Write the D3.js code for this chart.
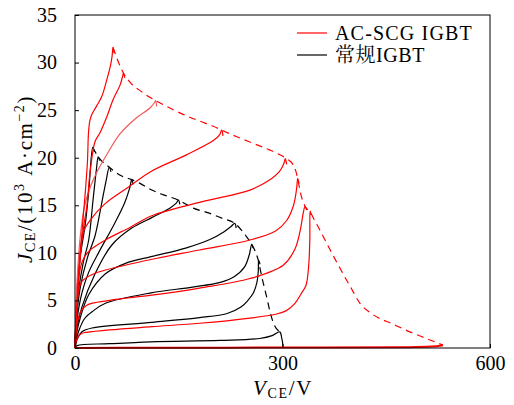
<!DOCTYPE html>
<html><head><meta charset="utf-8">
<script src="https://cdn.jsdelivr.net/npm/d3@7"></script>
<style>
body{margin:0;background:#fff}svg{display:block}
svg text{font-family:"Liberation Serif","Times New Roman","DejaVu Serif","Noto Serif CJK SC","Noto Sans CJK SC",serif !important;}
</style>
</head><body><svg id="c" width="514" height="405"></svg>
<script>
// ---- data (V in volts, J in 10^3 A/cm^2) ----
const xTicks = [0, 300, 600];
const yTicks = [0, 5, 10, 15, 20, 25, 30, 35];
const legendLabels = ["AC-SCG IGBT", "常规IGBT"];

// AC-SCG IGBT output curves (red)
const red0 = [[0,0],[100,0.02],[300,0.05],[470,0.08],[515,0.15],[532,0.3]];
const red1 = [[0,0],[2,3],[6,8],[11,13],[15,16.5],[18,19.6],[19.5,22.6],[21.5,23.9],[24,24.5],[31,25.4],[38.5,26.4],[46,28.2],[51,29.6],[53.5,30.6],[55,31.6],[56.5,31]];
const red2 = [[0,0],[3,5],[8,10],[13,13],[17,14.8],[22,18.6],[29,21.7],[36,22.6],[46,24.3],[55,26.1],[65,27.6],[69,28.6],[70,28.9],[72,28.4]];
const red3 = [[0,0],[3,7],[8,12],[14,15],[22,16.9],[31,18.4],[45,20.2],[65,22.5],[89,24.2],[108,25.2],[115,25.8],[116.5,26],[118,25.4]];
const red4 = [[0,0],[3,6],[7,10],[12,12.2],[22,13.45],[44,15.2],[78,16.95],[111,18.6],[161,20.3],[200,21.8],[209,22.4],[212,22.9],[214,22.3]];
const red5 = [[0,0],[3,5],[8,8.5],[14,9.6],[22,10.3],[44,11.35],[80,12.7],[111,13.9],[180,15.3],[253,16.6],[280,17.6],[296,18.6],[302,19.4],[304,19.9],[306,19.3]];
const red6 = [[0,0],[2,3.5],[5,6],[10,7],[29,7.85],[110,9.3],[180,10.3],[253,11.35],[290,12.3],[306,13.4],[316,15],[320.5,16.8],[322,17.8],[324,17.3]];
const red7 = [[0,0],[3,2.5],[8,3.8],[17,4.5],[50,5],[111,5.55],[180,6.3],[253,7.3],[301,8.7],[318,10.4],[326,12.5],[330,14.2],[332.5,14.85],[335,14.5]];
const red8 = [[0,0],[3,1.0],[8,1.45],[12.5,1.6],[50,1.9],[111,2.24],[180,2.6],[253,3.15],[290,3.55],[305,3.9],[318,4.7],[327,5.7],[334,6.6],[338,8.8],[339.5,11.5],[340,14.4],[341.5,14.0]];
const redEnvelope = [[55,31.6],[62,30.2],[70,28.9],[80,27.9],[95,27],[116.5,26],[135,25.3],[158,24.5],[182,23.8],[200,23.3],[212,22.9],[234,22.2],[258,21.5],[282,20.8],[299,20.2],[308,19.8],[315,19.3],[320,18.4],[322.5,17.6],[326,16.3],[333,14.85],[340,14.3],[345,13.6],[354,12.4],[369,10.3],[383,8.4],[398,6.45],[412,4.7],[431,3.5],[460,2.5],[484,1.7],[508,1.0],[532,0.3]];

// conventional IGBT output curves (black)
const black1 = [[0,0],[1.5,3.5],[3,6.1],[8,9.8],[15,13.1],[20,16.6],[25.6,21.1],[28,20.6]];
const black2 = [[0,0],[2,3.5],[5.3,6.1],[12,9],[19.8,11.35],[26,15.5],[31,18.8],[33.5,20.1],[35.5,19.7]];
const black3 = [[0,0],[2,3],[7.7,6.4],[18,9.5],[29,11.8],[38,15],[45,17.6],[49.5,19],[52,18.5]];
const black4 = [[0,0],[3,3],[10,5.8],[20,8.0],[34,10.0],[58,13.2],[72,15.3],[79,16.8],[82,17.7],[84,17.2]];
const black5 = [[0,0],[3,2.2],[10,4.3],[29,7.8],[53,10.8],[82,12.6],[111,13.7],[137,14.7],[146,15.2],[149.5,15.55],[151.5,15.1]];
const black6 = [[0,0],[3,1.8],[7.7,3.2],[19.8,5.6],[44,7.8],[73,8.9],[110,9.6],[160,10.5],[195,11.4],[215,12.2],[226,12.8],[231,13.1],[233,12.6]];
const black7 = [[0,0],[3,1.2],[7,2.1],[14,3.1],[24.6,3.8],[44,4.7],[110,5.8],[170,6.4],[210,6.9],[230,7.5],[245,8.5],[252,9.8],[255.5,10.9],[257.5,10.5]];
const black8 = [[0,0],[3,0.9],[10,1.7],[24.6,2.1],[111,2.7],[180,3.2],[219,3.6],[240,4.3],[250,5.0],[258,5.8],[263,6.9],[265,8.1],[265.5,9.2],[267.5,8.8]];
const black9 = [[0,0],[3,0.25],[50,0.45],[110,0.65],[210,0.8],[267,1.0],[285,1.3],[296,1.7],[299,1.0],[300.5,0.3],[300.5,0]];
const blackEnvelope = [[25.6,21.1],[33.5,20.1],[49.5,19],[67,18.1],[82,17.7],[94,17.3],[111,16.6],[128,16.1],[149.5,15.55],[171,14.7],[193,14.2],[214,13.6],[231,13.1],[248,11.7],[255.5,10.9],[265,9.2],[270,7.5],[277,5.4],[282,3.8],[287,2.6],[296,1.7]];

const redCurves = [red0, red8, red7, red6, red5, red4, red3, red2, red1];
const blackCurves = [black9, black8, black7, black6, black5, black4, black3, black2, black1];

// ---- drawing ----
const svg = d3.select("#c");
const L = 75, R = 490, T = 15, B = 348;
const x = d3.scaleLinear().domain([0, 600]).range([L, R]);
const y = d3.scaleLinear().domain([0, 35]).range([B, T]);

const line = d3.line().x(d => x(d[0])).y(d => y(d[1])).curve(d3.curveCatmullRom.alpha(0.5));
const envLine = d3.line().x(d => x(d[0])).y(d => y(d[1])).curve(d3.curveMonotoneX);

const plot = svg.append("g");
plot.selectAll("path.bk").data(blackCurves).join("path")
  .attr("d", line).attr("fill", "none").attr("stroke", "#000").attr("stroke-width", 1.2);
plot.append("path").attr("d", envLine(blackEnvelope)).attr("fill", "none")
  .attr("stroke", "#000").attr("stroke-width", 1.2).attr("stroke-dasharray", "7,5");
plot.selectAll("path.rd").data(redCurves).join("path")
  .attr("d", line).attr("fill", "none")
  .attr("stroke", d => d === red3 ? "#f25a5a" : "#ff0000").attr("stroke-width", d => d === red0 ? 2 : 1.2);
plot.append("path").attr("d", envLine(redEnvelope)).attr("fill", "none")
  .attr("stroke", "#ff0000").attr("stroke-width", 1.2).attr("stroke-dasharray", "7,5");

// frame
svg.append("rect").attr("x", L).attr("y", T).attr("width", R - L).attr("height", B - T)
  .attr("fill", "none").attr("stroke", "#000").attr("stroke-width", 1);

// axes
const ya = svg.append("g").attr("transform", `translate(${L},0)`)
  .call(d3.axisLeft(y).tickValues(yTicks).tickSize(-4).tickPadding(18).tickFormat(d3.format("d")));
const xa = svg.append("g").attr("transform", `translate(0,${B})`)
  .call(d3.axisBottom(x).tickValues(xTicks).tickSize(-4).tickPadding(8).tickFormat(d3.format("d")));
[ya, xa].forEach(g => {
  g.attr("font-family", null).attr("font-size", null);
  g.select(".domain").remove();
  g.selectAll("text").style("font-size", "20px").attr("fill", "#000");
  g.selectAll("line").attr("stroke", "#000");
});

// axis titles
function fitSpacing(sel, target) {
  const n = sel.text().length;
  const w = sel.node().getComputedTextLength();
  sel.attr("letter-spacing", Math.max(0, (target - w) / n));
}
const yl = svg.append("text").attr("transform", "translate(32,179) rotate(-90)")
  .attr("text-anchor", "middle").style("font-size", "21px").attr("fill", "#000");
yl.append("tspan").attr("font-style", "italic").text("J");
yl.append("tspan").style("font-size", "14px").attr("dy", 3).text("CE");
yl.append("tspan").attr("dy", -3).text("/(10");
yl.append("tspan").style("font-size", "14px").attr("dy", -8).text("3");
yl.append("tspan").attr("dy", 8).text("\u00a0A·cm");
yl.append("tspan").style("font-size", "14px").attr("dy", -8).text("−2");
yl.append("tspan").attr("dy", 8).text(")");
fitSpacing(yl, 168);

const xl = svg.append("text").attr("x", 283).attr("y", 395)
  .attr("text-anchor", "middle").style("font-size", "21px").attr("fill", "#000");
xl.append("tspan").attr("font-style", "italic").text("V");
xl.append("tspan").style("font-size", "14px").attr("dy", 3).text("CE");
xl.append("tspan").attr("dy", -3).text("/V");
fitSpacing(xl, 60);

// legend
const legColors = ["#ff0000", "#000"];
const legWidths = [138, 90];
const leg = svg.append("g");
legendLabels.forEach((t, i) => {
  const yy = 33 + i * 22;
  leg.append("line").attr("x1", 297).attr("x2", 327).attr("y1", yy).attr("y2", yy)
    .attr("stroke", legColors[i]).attr("stroke-width", 1.2);
  const tx = leg.append("text").attr("x", 335).attr("y", yy + 7)
    .style("font-size", "20px").attr("fill", "#000").text(t);
  fitSpacing(tx, legWidths[i]);
});
</script></body></html>
